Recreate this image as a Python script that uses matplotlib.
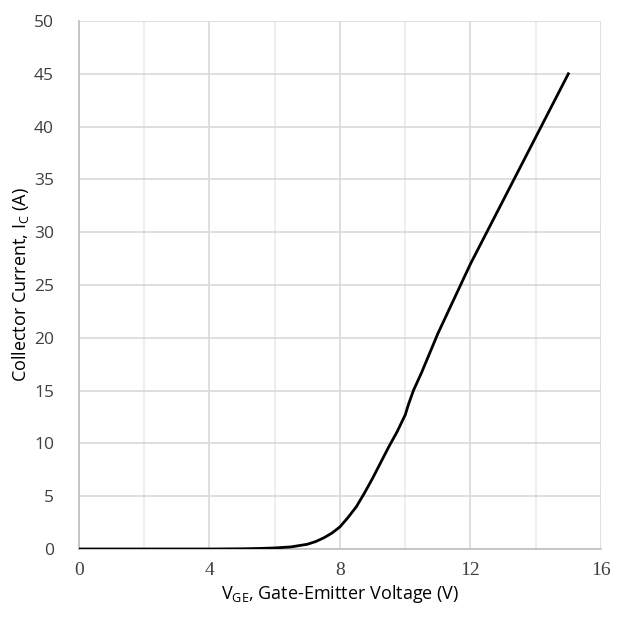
import matplotlib
matplotlib.use('Agg')
import matplotlib.pyplot as plt

# transfer characteristic
vge = [0, 1, 2, 3, 4, 5, 5.5, 6, 6.5, 7, 7.25, 7.5, 7.75, 8, 8.25, 8.5, 8.75, 9,
       9.25, 9.5, 9.75, 10, 10.1, 10.25, 10.5, 11, 11.5, 12, 12.5, 13, 13.5, 14, 14.5, 15]
ic = [0, 0, 0, 0, 0, 0.02, 0.05, 0.1, 0.2, 0.45, 0.7, 1.05, 1.5, 2.1, 3.0, 4.0, 5.3, 6.7,
      8.2, 9.7, 11.1, 12.7, 13.7, 15.0, 16.7, 20.4, 23.7, 27.0, 30.0, 33.0, 36.0, 39.0, 42.0, 45.0]

x_ticks = [0, 4, 8, 12, 16]
x_minor = [2, 6, 10, 14]
y_ticks = [0, 5, 10, 15, 20, 25, 30, 35, 40, 45, 50]

fig = plt.figure(figsize=(6.24, 6.17), dpi=100)
ax = fig.add_axes([0.1266, 0.1102, 0.8365, 0.8558])

ax.plot(vge, ic, color='black', lw=2, zorder=3)

ax.set_xlim(0, 16)
ax.set_ylim(0, 50)
ax.set_xticks(x_ticks)
ax.set_xticks(x_minor, minor=True)
ax.set_yticks(y_ticks)
ax.grid(which='major', color='#d9d9d9', lw=1.2)
ax.grid(which='minor', axis='x', color='#ebebeb', lw=1.2)
ax.set_axisbelow(True)
ax.tick_params(which='both', length=0)
ax.tick_params(axis='x', pad=9, labelsize=14, labelcolor='#404040')
ax.tick_params(axis='y', pad=18, labelsize=12.5, labelcolor='#404040')
for lab in ax.get_xticklabels():
    lab.set_fontfamily('Liberation Serif')
for lab in ax.get_yticklabels():
    lab.set_fontfamily('Open Sans')

for s in ['top', 'right']:
    ax.spines[s].set_visible(False)
for s in ['left', 'bottom']:
    ax.spines[s].set_color('#bfbfbf')
    ax.spines[s].set_linewidth(1.2)

ax.set_xlabel(r'V$_\mathregular{GE}$, Gate-Emitter Voltage (V)', fontsize=13,
              family='Open Sans', color='black', labelpad=3)
ax.set_ylabel(r'Collector Current, I$_\mathregular{C}$ (A)', fontsize=13,
              family='Open Sans', color='black', labelpad=2)

fig.savefig('out.png', dpi=100)
